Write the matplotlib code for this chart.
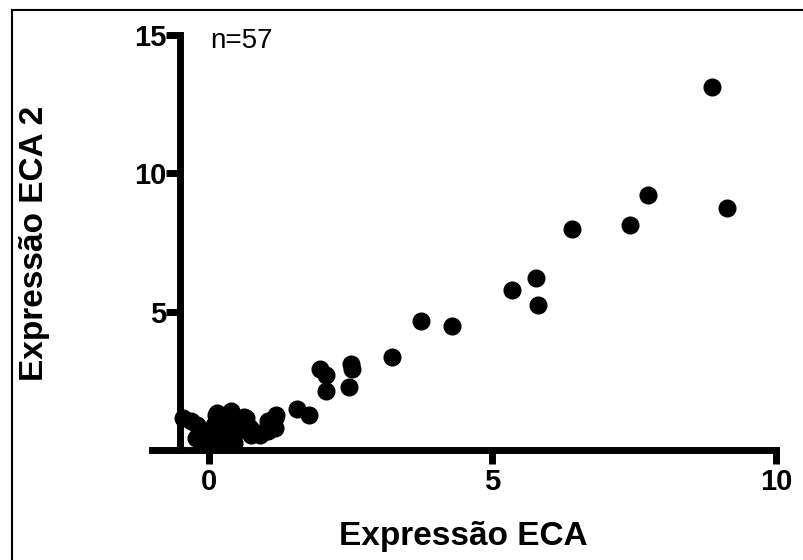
import matplotlib.pyplot as plt
from matplotlib.lines import Line2D

plt.rcParams['font.family'] = ['Liberation Sans', 'DejaVu Sans']

# Expressão ECA (x) vs Expressão ECA 2 (y), n=57
eca = [8.88, 9.13, 7.75, 7.43, 6.40, 5.77, 5.81, 5.34, 4.28, 3.74,
       3.23, 2.50, 2.52, 2.47, 1.97, 2.06, 2.07, 1.56, 1.76,
       -0.45, -0.31, -0.22, -0.14, -0.20, -0.08, -0.05, 0.04, 0.09, 0.13,
       0.15, 0.16, 0.22, 0.27, 0.39, 0.39, 0.39, 0.45, 0.51, 0.63,
       0.66, 0.72, 0.74, 0.89, 0.90, 1.04, 1.04, 1.10, 1.16, 1.16,
       1.19, 0.00, 0.10, 0.20, 0.30, 0.05, 0.35, -0.10]
eca2 = [13.13, 8.75, 9.22, 8.12, 8.00, 6.20, 5.24, 5.78, 4.49, 4.65,
        3.37, 3.12, 2.92, 2.27, 2.92, 2.72, 2.15, 1.50, 1.28,
        1.15, 1.04, 0.44, 0.68, 0.92, 0.32, 0.40, 0.56, 0.60, 1.28,
        1.33, 0.74, 0.32, 0.81, 1.40, 1.33, 0.20, 0.27, 0.68, 1.18,
        1.16, 0.80, 0.53, 0.62, 0.53, 0.68, 1.05, 0.92, 1.16, 0.79,
        1.25, 0.45, 0.90, 1.05, 0.50, 0.25, 1.00, 0.55]

x_ticks = [0, 5, 10]
y_ticks = [5, 10, 15]
n_text = "n=57"

fig = plt.figure(figsize=(8.04, 5.6), dpi=100)
ax = fig.add_axes([152 / 804, 110 / 560, 624 / 804, 415 / 560])

ax.plot(eca, eca2, 'o', color='black', markersize=12, clip_on=False)

ax.set_xlim(-1, 10)
ax.set_ylim(0, 15)

# estilo Prism: ejes desplazados y gruesos
for side in ['top', 'right']:
    ax.spines[side].set_visible(False)
ax.spines['left'].set_position(('data', -0.5))
ax.spines['bottom'].set_position(('data', 0))
for side in ['left', 'bottom']:
    ax.spines[side].set_linewidth(5)
    ax.spines[side].set_capstyle('projecting')

ax.set_xticks(x_ticks)
ax.set_yticks(y_ticks)
ax.tick_params(width=5, length=10, labelsize=21)
ax.tick_params(axis='x', pad=3)
ax.tick_params(axis='y', pad=0)
for lbl in ax.get_xticklabels() + ax.get_yticklabels():
    lbl.set_fontweight('bold')

ax.text(0.093, 0.985, n_text, transform=ax.transAxes, fontsize=20,
        va='center', ha='left')

fig.text(463 / 804, 1 - 537 / 560, "Expressão ECA", fontsize=24,
         fontweight='bold', ha='center', va='center')
fig.text(35 / 804, 1 - 243 / 560, "Expressão ECA 2", fontsize=24,
         fontweight='bold', ha='center', va='center', rotation=90)

# marco de la imagen (solo izquierda y arriba)
fig.add_artist(Line2D([12 / 804, 12 / 804], [0, 1 - 10 / 560],
                      color='black', lw=1.5, transform=fig.transFigure))
fig.add_artist(Line2D([12 / 804, 1], [1 - 10 / 560, 1 - 10 / 560],
                      color='black', lw=1.5, transform=fig.transFigure))

fig.savefig('out.png', dpi=100)
